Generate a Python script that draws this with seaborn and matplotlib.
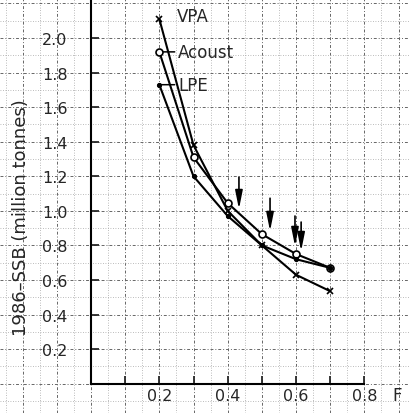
import numpy as np
import pandas as pd
import matplotlib
matplotlib.use('Agg')
import matplotlib.pyplot as plt
import seaborn as sns

# values
F = [0.2, 0.3, 0.4, 0.5, 0.6, 0.7]
vpa = [2.11, 1.38, 1.00, 0.80, 0.63, 0.535]
acoust = [1.92, 1.31, 1.045, 0.865, 0.75, 0.67]
lpe = [1.73, 1.20, 0.97, 0.80, 0.72, 0.67]

# arrows: (F, top, tip)
arrow_x = [0.433, 0.524, 0.597, 0.615]
arrow_top = [1.195, 1.073, 0.97, 0.935]
arrow_tip = [1.01, 0.883, 0.796, 0.767]

yticks = [0.2, 0.4, 0.6, 0.8, 1.0, 1.2, 1.4, 1.6, 1.8, 2.0]
xticks = [0.1, 0.2, 0.3, 0.4, 0.5, 0.6, 0.7, 0.8]
xticklabels = ['', '0.2', '', '0.4', '', '0.6', '', '0.8']

sns.set_style('white')
plt.rcParams['font.family'] = ['DejaVu Sans']

fig = plt.figure(figsize=(4.10, 4.14), dpi=100)
ax = fig.add_axes([0, 0, 1, 1])
ax.set_xlim(-0.2663, 0.9336)
ax.set_ylim(-0.170, 2.226)

# graph paper background
for gx in np.arange(-0.25, 0.95, 0.05):
    major = abs(round(gx / 0.1) * 0.1 - gx) < 1e-6
    ax.axvline(gx, color='0.4' if major else '0.65', lw=0.7 if major else 0.6,
               ls=(0, (3, 2, 1, 2)) if major else (0, (1, 2)), zorder=0)
for gy in np.arange(-0.1, 2.3, 0.1):
    major = abs(round(gy / 0.2) * 0.2 - gy) < 1e-6
    ax.axhline(gy, color='0.4' if major else '0.65', lw=0.7 if major else 0.6,
               ls=(0, (3, 2, 1, 2)) if major else (0, (1, 2)), zorder=0)

# curves
sns.lineplot(x=F, y=vpa, ax=ax, color='k', lw=1.5, marker='x', markersize=5,
             markeredgewidth=1.2, markeredgecolor='k', zorder=3)
sns.lineplot(x=F, y=acoust, ax=ax, color='k', lw=1.5, marker='o', markersize=5,
             markerfacecolor='white', markeredgecolor='k', markeredgewidth=1.2, zorder=3)
sns.lineplot(x=F, y=lpe, ax=ax, color='k', lw=1.5, marker='o', markersize=3,
             markerfacecolor='k', markeredgecolor='k', zorder=3)

# labels at the start of each curve
ax.text(0.2517, vpa[0] + 0.015, 'VPA', fontsize=12, va='center', ha='left')
ax.annotate('Acoust', xy=(F[0], acoust[0]), xytext=(0.2546, acoust[0]),
            fontsize=12, va='center', ha='left',
            arrowprops=dict(arrowstyle='-', color='k', lw=1.1, shrinkA=0, shrinkB=3))
ax.annotate('LPE', xy=(F[0], lpe[0]), xytext=(0.2546, lpe[0]),
            fontsize=12, va='center', ha='left',
            arrowprops=dict(arrowstyle='-', color='k', lw=1.1, shrinkA=0, shrinkB=0))

# arrows
for xa, yt, yb in zip(arrow_x, arrow_top, arrow_tip):
    ax.annotate('', xy=(xa, yb), xytext=(xa, yt),
                arrowprops=dict(arrowstyle='-|>,head_length=1.1,head_width=0.22',
                                color='k', lw=1.2, shrinkA=0, shrinkB=0))

# axes through the origin
for s in ['top', 'right']:
    ax.spines[s].set_visible(False)
ax.spines['left'].set_position(('data', 0))
ax.spines['bottom'].set_position(('data', 0))
ax.spines['left'].set_bounds(0, 2.226)
ax.spines['bottom'].set_bounds(0, 0.8)
for s in ['left', 'bottom']:
    ax.spines[s].set_linewidth(1.5)
    ax.spines[s].set_color('k')
    ax.spines[s].set_zorder(4)

ax.set_xticks(xticks)
ax.set_xticklabels(xticklabels)
ax.set_yticks(yticks)
ax.set_yticklabels([f'{v:.1f}' for v in yticks])
ax.tick_params(axis='x', direction='in', length=6, width=1.3, pad=3, labelsize=11.5)
ax.tick_params(axis='y', direction='in', length=6, width=1.3, pad=17, labelsize=11.5)
ax.tick_params(which='both', bottom=True, left=True)

ax.set_xlabel('F', fontsize=12)
ax.xaxis.set_label_coords(397 / 410, 1 - 387 / 414)
ax.set_ylabel('')
fig.text(21 / 410, 1 - 218 / 414, '1986–SSB (million tonnes)', rotation=90,
         ha='center', va='center', fontsize=13)

fig.savefig('out.png', dpi=100)
